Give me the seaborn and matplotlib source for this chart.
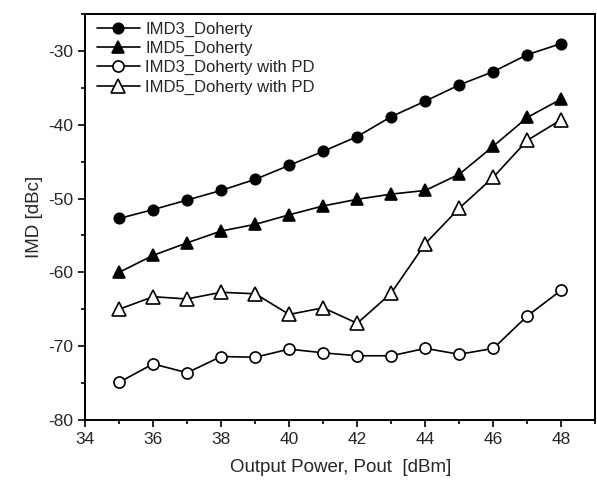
import numpy as np
import pandas as pd
import matplotlib
matplotlib.use("Agg")
import matplotlib.pyplot as plt
import seaborn as sns
from matplotlib.ticker import MultipleLocator

# data
pout = [35, 36, 37, 38, 39, 40, 41, 42, 43, 44, 45, 46, 47, 48]
imd3_doherty = [-52.7, -51.5, -50.2, -48.9, -47.4, -45.5, -43.6, -41.6,
                -38.9, -36.8, -34.6, -32.8, -30.5, -29.0]
imd5_doherty = [-60.0, -57.7, -56.0, -54.4, -53.5, -52.2, -51.0, -50.1,
                -49.4, -48.9, -46.7, -42.9, -39.0, -36.5]
imd3_pd = [-74.9, -72.4, -73.6, -71.4, -71.5, -70.4, -70.9, -71.3,
           -71.3, -70.3, -71.1, -70.3, -65.9, -62.4]
imd5_pd = [-65.0, -63.3, -63.6, -62.7, -62.9, -65.7, -64.8, -66.9,
           -62.8, -56.1, -51.3, -47.1, -42.1, -39.3]

labels = ["IMD3_Doherty", "IMD5_Doherty",
          "IMD3_Doherty with PD", "IMD5_Doherty with PD"]
series = [imd3_doherty, imd5_doherty, imd3_pd, imd5_pd]
markers = ["o", "^", "o", "^"]
faces = ["black", "black", "white", "white"]
msizes = [7.5, 9, 8, 9.5]

sns.set_style("ticks")
plt.rcParams['font.family'] = ['Liberation Sans', 'DejaVu Sans']
plt.rcParams['axes.unicode_minus'] = False

fig = plt.figure(figsize=(5.97, 4.87), dpi=100)
ax = fig.add_axes([0.1424, 0.1376, 0.855, 0.8336])

for lab, vals, m, fc, ms in zip(labels, series, markers, faces, msizes):
    df = pd.DataFrame({"Pout": pout, "IMD": vals})
    sns.lineplot(data=df, x="Pout", y="IMD", ax=ax, color="black",
                 linewidth=1.2, marker=m, markersize=ms,
                 markerfacecolor=fc, markeredgecolor="black",
                 markeredgewidth=1.2, label=lab, legend=False)

ax.set_xlim(34, 49)
ax.set_ylim(-80, -25)
ax.xaxis.set_major_locator(MultipleLocator(2))
ax.xaxis.set_minor_locator(MultipleLocator(1))
ax.yaxis.set_major_locator(MultipleLocator(10))
ax.yaxis.set_minor_locator(MultipleLocator(5))
ax.tick_params(which="both", direction="out", top=False, right=False,
               labelsize=12.5, width=1.2, color="black")
ax.tick_params(which="major", length=5)
ax.tick_params(which="minor", length=3)
for s in ax.spines.values():
    s.set_linewidth(1.4)
    s.set_color("black")

ax.set_xlabel("Output Power, Pout  [dBm]", fontsize=13.5, labelpad=9)
ax.set_ylabel("IMD [dBc]", fontsize=13.5, labelpad=4)

handles, labs = ax.get_legend_handles_labels()
ax.legend(handles, labs, loc="upper left", frameon=False, fontsize=12,
          handlelength=2.6, labelspacing=0.25, handletextpad=0.3,
          borderaxespad=0.3, bbox_to_anchor=(0.0, 1.01))

fig.savefig("out.png", dpi=100)
